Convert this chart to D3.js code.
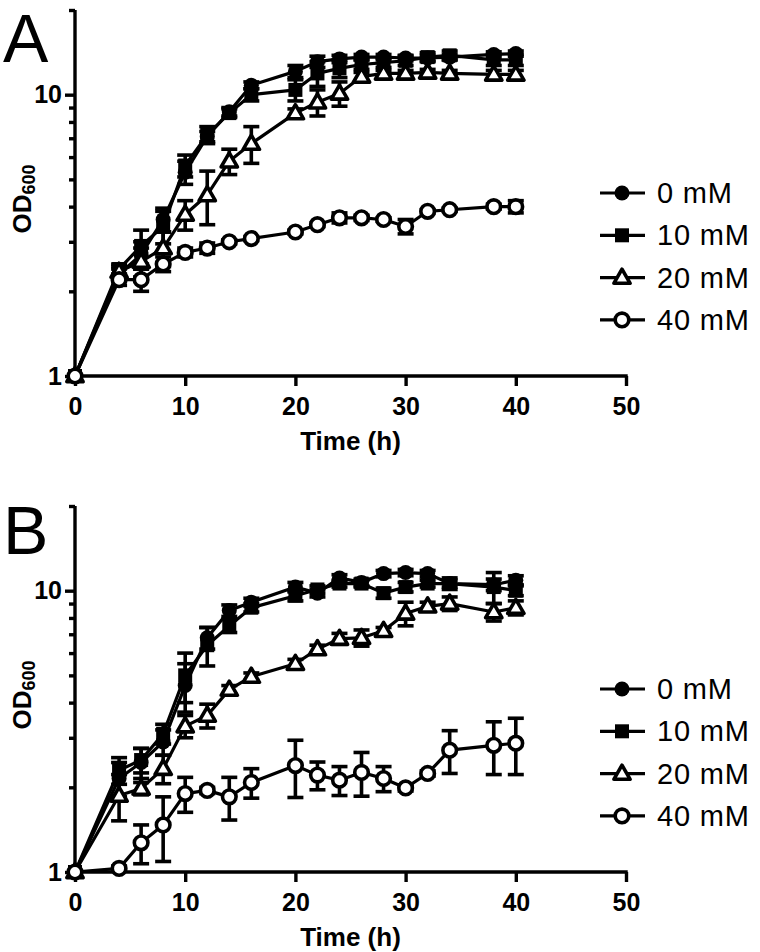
<!DOCTYPE html>
<html>
<head>
<meta charset="utf-8">
<script src="https://cdn.jsdelivr.net/npm/d3@7"></script>
<style>
  html, body { margin: 0; padding: 0; background: #fff; }
  svg { display: block; }
</style>
</head>
<body>
<svg id="chart" width="760" height="952"></svg>
<script>
// ---------------- data ----------------
const times = [0, 4, 6, 8, 10, 12, 14, 16, 20, 22, 24, 26, 28, 30, 32, 34, 38, 40];
const seriesNames = ["0 mM", "10 mM", "20 mM", "40 mM"];
const xTicks = [0, 10, 20, 30, 40, 50];
const yMajorTicks = [1, 10];
const yMinorTicks = [2, 3, 4, 5, 6, 7, 8, 9, 20];

// Panel A means / SD
const a0mM   = [1, 2.3, 2.7, 3.6, 5.3, 7.1, 8.7, 10.8, 12.1, 13.1, 13.4, 13.6, 13.6, 13.5, 13.5, 13.6, 13.9, 14.0];
const a0mMsd = [0, 0.1, 0.3, 0.35, 0.5, 0.3, 0.3, 0.3, 0.6, 0.6, 0.4, 0.3, 0.3, 0.3, 0.3, 0.3, 0.3, 0.3];
const a10mM   = [1, 2.4, 2.9, 3.4, 5.6, 7.2, 8.6, 10.0, 10.4, 11.9, 12.4, 12.8, 13.0, 13.2, 13.6, 13.8, 13.3, 13.3];
const a10mMsd = [0, 0.1, 0.4, 0.45, 0.5, 0.5, 0.3, 0.5, 0.9, 1.2, 0.9, 0.5, 0.5, 0.5, 0.5, 0.5, 0.6, 0.6];
const a20mM   = [1, 2.35, 2.55, 2.85, 3.75, 4.4, 5.8, 6.7, 8.6, 9.4, 10.1, 11.6, 11.9, 11.9, 12.0, 11.9, 11.8, 11.8];
const a20mMsd = [0, 0.1, 0.3, 0.4, 0.45, 0.95, 0.6, 1.0, 0.3, 1.0, 1.0, 0.4, 0.3, 0.3, 0.3, 0.3, 0.4, 0.4];
const a40mM   = [1, 2.2, 2.2, 2.5, 2.75, 2.85, 3.0, 3.08, 3.25, 3.45, 3.65, 3.65, 3.6, 3.4, 3.85, 3.9, 4.0, 4.0];
const a40mMsd = [0, 0.1, 0.2, 0.15, 0.1, 0.12, 0.05, 0.05, 0.05, 0.05, 0.15, 0.08, 0.05, 0.2, 0.05, 0.05, 0.08, 0.2];

// Panel B means / SD
const b0mM   = [1, 2.15, 2.45, 2.9, 4.6, 6.8, 8.5, 9.1, 10.3, 9.8, 11.1, 10.7, 11.5, 11.6, 11.5, 10.6, 10.5, 10.9];
const b0mMsd = [0, 0.3, 0.3, 0.3, 0.9, 0.6, 0.4, 0.3, 0.4, 0.3, 0.3, 0.3, 0.3, 0.3, 0.3, 0.5, 0.5, 0.4];
const b10mM   = [1, 2.3, 2.5, 3.1, 5.0, 6.4, 7.5, 8.7, 9.6, 10.1, 10.6, 10.6, 9.8, 10.3, 10.6, 10.6, 10.3, 10.0];
const b10mMsd = [0, 0.25, 0.25, 0.25, 1.0, 1.0, 0.4, 0.3, 0.4, 0.3, 0.3, 0.3, 0.4, 0.4, 0.3, 0.3, 1.3, 0.4];
const b20mM   = [1, 1.87, 1.98, 2.33, 3.3, 3.6, 4.45, 4.95, 5.5, 6.2, 6.75, 6.8, 7.2, 8.3, 8.8, 9.0, 8.4, 8.7];
const b20mMsd = [0, 0.35, 0.1, 0.27, 0.3, 0.35, 0.15, 0.15, 0.2, 0.2, 0.3, 0.45, 0.2, 0.8, 0.3, 0.5, 0.6, 0.5];
const b40mM   = [1, 1.03, 1.27, 1.47, 1.9, 1.95, 1.85, 2.08, 2.39, 2.21, 2.12, 2.26, 2.15, 1.99, 2.24, 2.71, 2.82, 2.87];
const b40mMsd = [0, 0.02, 0.2, 0.38, 0.27, 0.05, 0.32, 0.25, 0.55, 0.25, 0.25, 0.4, 0.22, 0.05, 0.05, 0.47, 0.6, 0.65];

// ---------------- drawing ----------------
const svg = d3.select("#chart");
const FONT = "'Liberation Sans', Arial, Helvetica, sans-serif";
const markerStyles = ["filledCircle", "filledSquare", "openTriangle", "openCircle"];

function drawMarker(sel, type) {
  if (type === "filledCircle") {
    sel.append("circle").attr("r", 7.5).attr("fill", "#000");
  } else if (type === "filledSquare") {
    sel.append("rect").attr("x", -7).attr("y", -7).attr("width", 14).attr("height", 14).attr("fill", "#000");
  } else if (type === "openTriangle") {
    sel.append("path").attr("d", d3.symbol(d3.symbolTriangle, 115)())
      .attr("transform", "translate(0,1)")
      .attr("fill", "#fff").attr("stroke", "#000").attr("stroke-width", 3.6).attr("stroke-linejoin", "round");
  } else {
    sel.append("circle").attr("r", 6.8).attr("fill", "#fff").attr("stroke", "#000").attr("stroke-width", 3.6);
  }
}

function drawPanel(cfg) {
  const g = svg.append("g");
  const x = d3.scaleLinear().domain([0, 50]).range([75, 626]);
  const y = d3.scaleLog().domain([1, 20]).range([cfg.bottom, cfg.top]);

  // panel letter
  g.append("text").attr("x", 3).attr("y", cfg.letterY)
    .attr("font-family", FONT).attr("font-size", 68).text(cfg.letter);

  // y axis
  const yAxis = d3.axisLeft(y)
    .tickValues(yMajorTicks.concat(yMinorTicks))
    .tickFormat(d => yMajorTicks.includes(d) ? d3.format("d")(d) : "")
    .tickSizeOuter(0).tickSize(10).tickPadding(3);
  const ya = g.append("g").attr("transform", "translate(75,0)").call(yAxis);
  ya.selectAll(".tick line").attr("x2", d => yMajorTicks.includes(d) ? -10 : -6);
  ya.selectAll("line, path").attr("stroke", "#000").attr("stroke-width", 3.4);
  ya.select(".domain").attr("d", `M0,${cfg.top}V${cfg.bottom}`);
  ya.selectAll("text").attr("font-family", FONT).attr("font-size", 25).attr("font-weight", "bold").attr("fill", "#000");

  // x axis
  const xAxis = d3.axisBottom(x).tickValues(xTicks).tickSize(10).tickPadding(11).tickSizeOuter(0);
  const xa = g.append("g").attr("transform", `translate(0,${cfg.bottom})`).call(xAxis);
  xa.selectAll("line, path").attr("stroke", "#000").attr("stroke-width", 3.4);
  xa.select(".domain").attr("d", `M${x(0) - 1.7},0H${x(50) + 1.7}`);
  xa.selectAll("text").attr("font-family", FONT).attr("font-size", 25).attr("font-weight", "bold").attr("fill", "#000");

  // axis titles
  g.append("text").attr("x", (x(0) + x(50)) / 2).attr("y", cfg.bottom + 74)
    .attr("text-anchor", "middle").attr("font-family", FONT).attr("font-size", 26).attr("font-weight", "bold")
    .text("Time (h)");
  const yl = g.append("text")
    .attr("transform", `translate(31,${(cfg.top + cfg.bottom) / 2 + 6}) rotate(-90)`)
    .attr("text-anchor", "middle").attr("font-family", FONT).attr("font-size", 26).attr("font-weight", "bold");
  yl.append("tspan").text("OD");
  yl.append("tspan").attr("font-size", 18).attr("dy", 4).text("600");

  const line = d3.line().x(d => x(d.t)).y(d => y(d.v));

  // draw series
  cfg.series.forEach((s, si) => {
    const pts = times.map((t, i) => ({ t, v: s.vals[i], sd: s.sd[i] }));
    const sg = g.append("g");
    sg.append("path").datum(pts).attr("d", line).attr("fill", "none")
      .attr("stroke", "#000").attr("stroke-width", 3.2).attr("stroke-linejoin", "round");
    // error bars
    const eb = sg.selectAll(".eb").data(pts.filter(d => d.sd > 0)).enter().append("g");
    const lo = d => y(Math.max(1.0001, d.v - d.sd));
    const hi = d => y(d.v + d.sd);
    eb.append("line").attr("x1", d => x(d.t)).attr("x2", d => x(d.t))
      .attr("y1", hi).attr("y2", lo).attr("stroke", "#000").attr("stroke-width", 3.6);
    eb.append("line").attr("x1", d => x(d.t) - 8).attr("x2", d => x(d.t) + 8)
      .attr("y1", hi).attr("y2", hi).attr("stroke", "#000").attr("stroke-width", 3.6);
    eb.append("line").attr("x1", d => x(d.t) - 8).attr("x2", d => x(d.t) + 8)
      .attr("y1", lo).attr("y2", lo).attr("stroke", "#000").attr("stroke-width", 3.6);
    // markers
    sg.selectAll(".m").data(pts).enter().append("g")
      .attr("transform", d => `translate(${x(d.t)},${y(d.v)})`)
      .each(function () { drawMarker(d3.select(this), markerStyles[si]); });
  });

  // legend
  cfg.series.forEach((s, si) => {
    const ly = cfg.legendY + si * 42.3;
    const lg = g.append("g").attr("transform", `translate(0,${ly})`);
    lg.append("line").attr("x1", 600).attr("x2", 645).attr("y1", 0).attr("y2", 0)
      .attr("stroke", "#000").attr("stroke-width", 3.2);
    const mg = lg.append("g").attr("transform", "translate(622,0)");
    drawMarker(mg, markerStyles[si]);
    lg.append("text").attr("x", 657).attr("y", 10).attr("font-family", FONT).attr("font-size", 29)
      .attr("letter-spacing", 0.8).text(seriesNames[si]);
  });
}

drawPanel({
  letter: "A", letterY: 62, top: 10, bottom: 376, legendY: 193,
  series: [
    { vals: a0mM, sd: a0mMsd }, { vals: a10mM, sd: a10mMsd },
    { vals: a20mM, sd: a20mMsd }, { vals: a40mM, sd: a40mMsd }
  ]
});
drawPanel({
  letter: "B", letterY: 554, top: 506, bottom: 872, legendY: 689,
  series: [
    { vals: b0mM, sd: b0mMsd }, { vals: b10mM, sd: b10mMsd },
    { vals: b20mM, sd: b20mMsd }, { vals: b40mM, sd: b40mMsd }
  ]
});
</script>
</body>
</html>
